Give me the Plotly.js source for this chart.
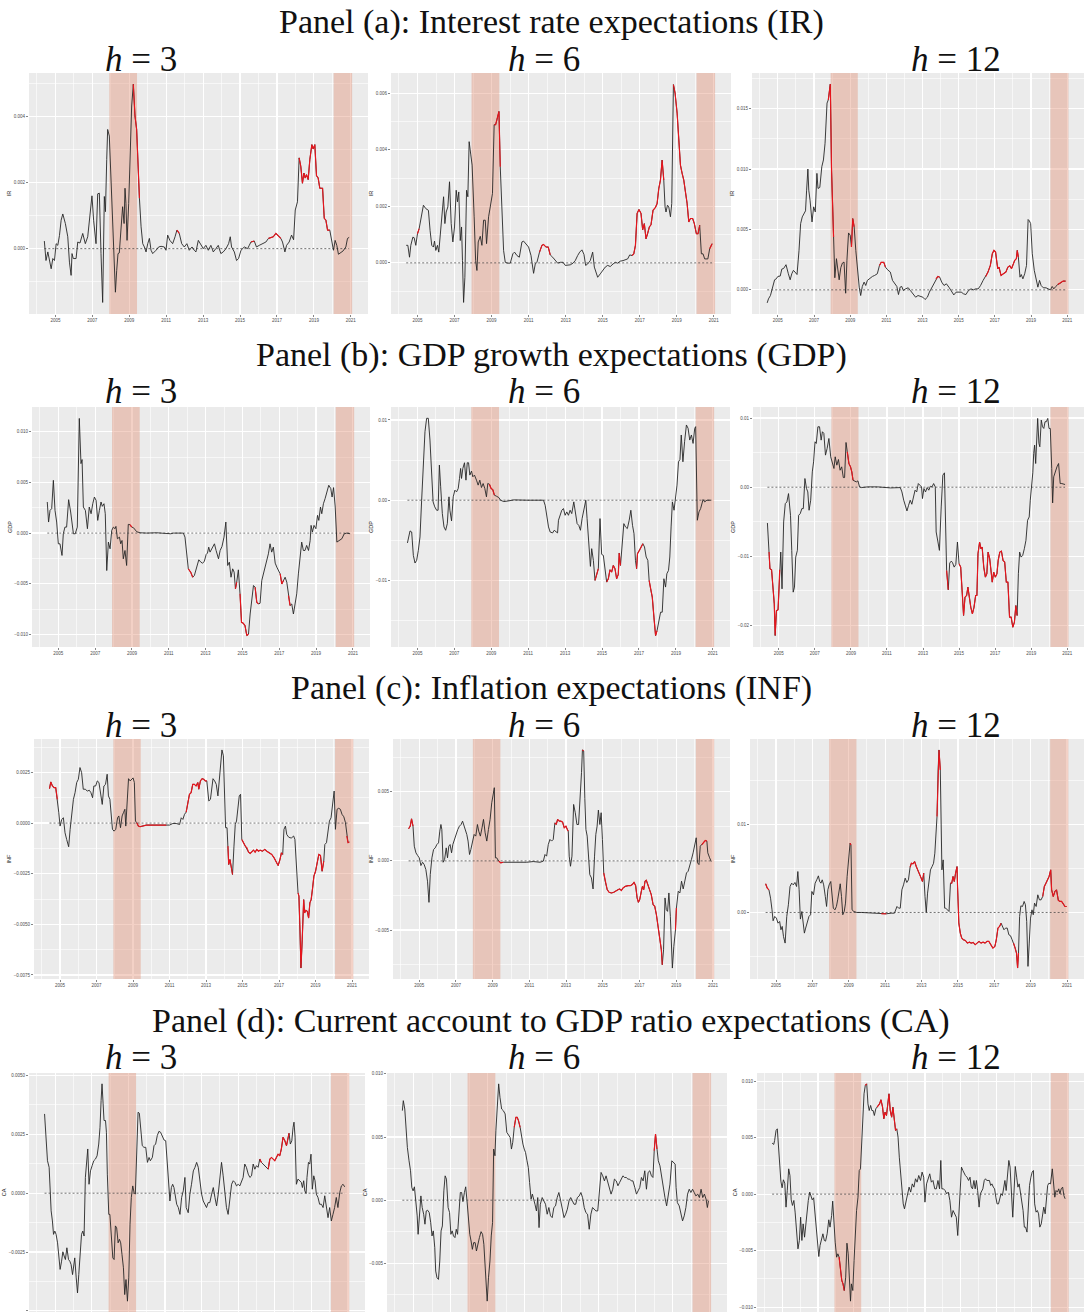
<!DOCTYPE html>
<html><head><meta charset="utf-8">
<script src="https://cdn.plot.ly/plotly-3.0.1.min.js"></script>
<style>html,body{margin:0;padding:0;background:#fff}#chart{width:1084px;height:1313px}</style>
</head><body><div id="chart"></div>
<script>
// Recession bands (decimal years)
const recessions = [[2007.92, 2009.42], [2020.07, 2021.07]];

// Series: [decimal year, value]
const IR_h3 = [[2004.40,0.23e-3],[2004.49,-0.36e-3],[2004.59,-0.1e-3],[2004.77,-0.61e-3],[2004.86,-0.3e-3],[2004.95,-0.36e-3],[2005.04,0.15e-3],[2005.13,0.1e-3],[2005.22,0.4e-3],[2005.31,0.86e-3],
[2005.40,1.05e-3],[2005.54,0.76e-3],[2005.67,0.36e-3],[2005.76,-0.41e-3],[2005.85,-0.81e-3],[2005.90,-0.15e-3],[2005.97,-0.3e-3],[2006.12,-0.3e-3],[2006.21,0.2e-3],[2006.33,0.17e-3],
[2006.48,0.46e-3],[2006.62,0.15e-3],[2006.75,0.36e-3],[2006.88,0.97e-3],[2006.98,1.6e-3],[2007.07,0.86e-3],[2007.20,0.15e-3],[2007.29,1.66e-3],[2007.38,1.68e-3],[2007.47,-0.15e-3],
[2007.56,-1.63e-3],[2007.65,1.58e-3],[2007.71,1.12e-3],[2007.78,2.7e-3],[2007.83,3.61e-3],[2007.92,3.41e-3],[2008.01,2.08e-3],[2008.10,0.66e-3],[2008.19,-0.97e-3],[2008.25,-1.32e-3],
[2008.32,-0.66e-3],[2008.39,-0.15e-3],[2008.46,-0.13e-3],[2008.55,0.56e-3],[2008.64,1.27e-3],[2008.72,0.76e-3],[2008.77,1.83e-3],[2008.82,1.37e-3],[2008.88,0.25e-3],[2008.97,1.37e-3],
[2009.06,2.7e-3],[2009.13,4.32e-3],[2009.22,4.98e-3],[2009.31,4.02e-3],[2009.40,3.61e-3],[2009.47,2.49e-3],[2009.55,1.53e-3],[2009.64,0.66e-3],[2009.73,0.15e-3],[2009.82,0.05e-3],
[2009.91,-0.1e-3],[2010.00,0.15e-3],[2010.09,0.31e-3],[2010.18,-0.05e-3],[2010.27,-0.15e-3],[2010.45,-0.05e-3],[2010.59,0.05e-3],[2010.72,0.07e-3],[2010.90,0.05e-3],[2010.99,-0.05e-3],
[2011.08,0.41e-3],[2011.20,0.25e-3],[2011.35,0.15e-3],[2011.48,0.36e-3],[2011.58,0.56e-3],[2011.71,0.46e-3],[2011.84,0.15e-3],[2011.98,0.05e-3],[2012.12,0.15e-3],[2012.25,-0.05e-3],
[2012.40,0.05e-3],[2012.52,-0.05e-3],[2012.61,-0.1e-3],[2012.74,0.25e-3],[2012.88,0.1e-3],[2013.01,0],[2013.15,0.1e-3],[2013.28,-0.05e-3],[2013.42,0.1e-3],[2013.55,-0.1e-3],
[2013.69,0],[2013.82,0.1e-3],[2013.96,-0.15e-3],[2014.09,-0.1e-3],[2014.24,0],[2014.38,0.15e-3],[2014.47,0.36e-3],[2014.54,0.05e-3],[2014.69,-0.1e-3],[2014.81,-0.36e-3],
[2014.92,-0.3e-3],[2015.05,-0.05e-3],[2015.23,0.05e-3],[2015.41,0],[2015.50,0.1e-3],[2015.59,0.2e-3],[2015.77,0.23e-3],[2015.89,0.05e-3],[2016.04,0.1e-3],[2016.22,0.15e-3],
[2016.40,0.2e-3],[2016.54,0.31e-3],[2016.67,0.33e-3],[2016.80,0.36e-3],[2016.94,0.46e-3],[2017.09,0.38e-3],[2017.21,0.31e-3],[2017.30,0.2e-3],[2017.43,-0.1e-3],[2017.52,0.1e-3],
[2017.66,0.2e-3],[2017.79,0.41e-3],[2017.90,0.27e-3],[2017.99,1.17e-3],[2018.11,1.42e-3],[2018.20,2.75e-3],[2018.29,2.49e-3],[2018.38,1.98e-3],[2018.46,2.29e-3],[2018.53,2.14e-3],
[2018.60,2.24e-3],[2018.69,2.09e-3],[2018.78,2.7e-3],[2018.89,3.15e-3],[2018.96,3.02e-3],[2019.05,3.15e-3],[2019.14,2.21e-3],[2019.23,2.14e-3],[2019.32,1.83e-3],[2019.47,1.83e-3],
[2019.56,0.92e-3],[2019.65,0.86e-3],[2019.74,0.56e-3],[2019.86,0.56e-3],[2019.97,0.15e-3],[2020.06,-0.05e-3],[2020.15,0.25e-3],[2020.24,0.1e-3],[2020.33,-0.17e-3],[2020.46,-0.13e-3],
[2020.58,-0.07e-3],[2020.73,0.05e-3],[2020.82,0.31e-3],[2020.91,0.34e-3]];
const IR_h3_red = [[2009.22,2009.55],[2011.58,2011.71],[2015.59,2015.77],[2016.54,2017.21],[2018.20,2019.86]];

const IR_h6 = [[2004.39,0.62e-3],[2004.48,0.62e-3],[2004.57,0.2e-3],[2004.64,0.62e-3],[2004.75,0.91e-3],[2004.82,0.89e-3],[2004.91,0.62e-3],[2005.00,1.03e-3],[2005.09,1.21e-3],[2005.18,1.51e-3],
[2005.27,1.8e-3],[2005.32,2.04e-3],[2005.45,1.92e-3],[2005.59,1.86e-3],[2005.68,1.15e-3],[2005.77,0.62e-3],[2005.86,0.56e-3],[2005.92,0.77e-3],[2005.99,0.44e-3],[2006.08,0.62e-3],
[2006.15,0.38e-3],[2006.23,0.91e-3],[2006.32,1.63e-3],[2006.41,2.34e-3],[2006.48,1.39e-3],[2006.55,1.8e-3],[2006.64,1.98e-3],[2006.73,2.87e-3],[2006.82,1.39e-3],[2006.91,0.74e-3],
[2007.00,1.27e-3],[2007.09,2.57e-3],[2007.16,2.16e-3],[2007.23,2.51e-3],[2007.31,0.79e-3],[2007.38,1.27e-3],[2007.43,0.08e-3],[2007.49,-1.40e-3],[2007.56,-0.51e-3],[2007.65,2.57e-3],
[2007.72,2.34e-3],[2007.79,4.29e-3],[2007.88,3.82e-3],[2007.95,3.46e-3],[2008.06,1.63e-3],[2008.14,0.08e-3],[2008.21,-0.27e-3],[2008.28,0.74e-3],[2008.39,0.94e-3],[2008.48,0.62e-3],
[2008.57,1.51e-3],[2008.66,1.51e-3],[2008.73,0.68e-3],[2008.84,1.63e-3],[2008.93,1.98e-3],[2009.05,2.46e-3],[2009.14,4.89e-3],[2009.22,4.89e-3],[2009.29,5.07e-3],[2009.40,5.36e-3],
[2009.47,3.4e-3],[2009.56,1.86e-3],[2009.65,0.44e-3],[2009.74,0.02e-3],[2009.86,-0.01e-3],[2010.01,-0.01e-3],[2010.15,0.32e-3],[2010.24,0.38e-3],[2010.37,0.26e-3],[2010.50,0.2e-3],
[2010.64,0.74e-3],[2010.73,0.77e-3],[2010.86,0.68e-3],[2011.00,0.56e-3],[2011.13,0.26e-3],[2011.27,-0.37e-3],[2011.36,-0.04e-3],[2011.45,0.02e-3],[2011.59,0.38e-3],[2011.72,0.62e-3],
[2011.81,0.65e-3],[2011.94,0.56e-3],[2012.06,0.56e-3],[2012.17,0.28e-3],[2012.30,0.2e-3],[2012.44,0.08e-3],[2012.57,-0.01e-3],[2012.71,0.02e-3],[2012.86,0.02e-3],[2012.98,-0.09e-3],
[2013.11,-0.09e-3],[2013.25,-0.07e-3],[2013.40,-0.01e-3],[2013.52,0.08e-3],[2013.65,0.26e-3],[2013.76,0.38e-3],[2013.88,0.46e-3],[2013.99,0.3e-3],[2014.08,-0.09e-3],[2014.19,-0.04e-3],
[2014.33,0.08e-3],[2014.46,0.38e-3],[2014.55,-0.15e-3],[2014.64,-0.33e-3],[2014.73,-0.51e-3],[2014.87,-0.39e-3],[2015.00,-0.25e-3],[2015.14,-0.15e-3],[2015.27,-0.09e-3],[2015.41,-0.13e-3],
[2015.56,-0.04e-3],[2015.68,0.02e-3],[2015.81,-0.01e-3],[2015.95,0.06e-3],[2016.10,0.08e-3],[2016.23,0.11e-3],[2016.35,0.14e-3],[2016.46,0.28e-3],[2016.59,0.26e-3],[2016.68,0.32e-3],
[2016.77,0.62e-3],[2016.86,1.75e-3],[2016.96,1.89e-3],[2017.07,1.75e-3],[2017.16,1.17e-3],[2017.25,1.39e-3],[2017.34,0.85e-3],[2017.43,1.03e-3],[2017.52,1.27e-3],[2017.61,1.35e-3],
[2017.72,1.86e-3],[2017.85,1.96e-3],[2017.94,2.1e-3],[2018.03,2.63e-3],[2018.12,2.93e-3],[2018.21,3.64e-3],[2018.30,2.93e-3],[2018.37,1.98e-3],[2018.42,1.8e-3],[2018.50,2.04e-3],
[2018.57,1.98e-3],[2018.66,1.63e-3],[2018.73,2.1e-3],[2018.82,6.31e-3],[2018.91,6.01e-3],[2019.02,5.3e-3],[2019.11,4.12e-3],[2019.20,3.46e-3],[2019.29,3.17e-3],[2019.38,2.93e-3],
[2019.47,2.51e-3],[2019.56,2.1e-3],[2019.65,1.45e-3],[2019.74,1.57e-3],[2019.86,1.57e-3],[2019.95,1.39e-3],[2020.06,1.03e-3],[2020.15,1.03e-3],[2020.24,1.33e-3],[2020.33,0.32e-3],
[2020.42,0.32e-3],[2020.51,0.14e-3],[2020.68,0.14e-3],[2020.78,0.5e-3],[2020.91,0.68e-3]];
const IR_h6_red = [[2005.00,2005.09],[2009.14,2009.47],[2011.59,2012.17],[2016.59,2018.30],[2018.82,2020.24],[2020.78,2020.91]];

const IR_h12 = [[2004.41,-1.08e-3],[2004.48,-0.75e-3],[2004.59,-0.47e-3],[2004.68,0.08e-3],[2004.82,0.83e-3],[2004.91,0.91e-3],[2005.00,1.11e-3],[2005.13,1.14e-3],[2005.22,1.72e-3],[2005.32,1.77e-3],
[2005.45,2.08e-3],[2005.58,1.33e-3],[2005.68,0.83e-3],[2005.77,1.33e-3],[2005.86,1.61e-3],[2005.95,1.47e-3],[2006.06,1.27e-3],[2006.17,3.27e-3],[2006.26,5.48e-3],[2006.35,6.04e-3],
[2006.44,6.32e-3],[2006.53,6.54e-3],[2006.59,8.25e-3],[2006.66,10.0e-3],[2006.71,8.25e-3],[2006.78,7.42e-3],[2006.89,5.62e-3],[2006.98,6.87e-3],[2007.07,6.45e-3],[2007.16,9.64e-3],
[2007.22,8.39e-3],[2007.32,8.48e-3],[2007.43,10.19e-3],[2007.52,10.75e-3],[2007.61,12.13e-3],[2007.67,13.8e-3],[2007.72,15.46e-3],[2007.79,15.73e-3],[2007.90,17.04e-3],[2007.97,9.92e-3],
[2008.08,4.38e-3],[2008.15,1.0e-3],[2008.24,2.58e-3],[2008.30,1.88e-3],[2008.39,0.83e-3],[2008.48,1.83e-3],[2008.57,2.22e-3],[2008.66,2.3e-3],[2008.75,-0.28e-3],[2008.82,2.44e-3],
[2008.91,4.71e-3],[2009.00,4.52e-3],[2009.07,3.55e-3],[2009.14,5.9e-3],[2009.22,5.21e-3],[2009.31,3.27e-3],[2009.41,1.61e-3],[2009.50,0.22e-3],[2009.58,-0.47e-3],[2009.67,0.28e-3],
[2009.77,0.64e-3],[2009.86,0.36e-3],[2009.95,0.78e-3],[2010.10,0.97e-3],[2010.23,1.11e-3],[2010.35,1.19e-3],[2010.50,1.33e-3],[2010.62,2.02e-3],[2010.71,2.27e-3],[2010.86,2.27e-3],
[2010.95,1.88e-3],[2011.07,1.66e-3],[2011.22,1.47e-3],[2011.34,0.78e-3],[2011.49,0.5e-3],[2011.58,0.28e-3],[2011.67,-0.39e-3],[2011.76,0.22e-3],[2011.85,0.28e-3],[2011.94,-0.06e-3],
[2012.06,0.08e-3],[2012.21,0.17e-3],[2012.33,-0.06e-3],[2012.48,-0.39e-3],[2012.62,-0.61e-3],[2012.75,-0.47e-3],[2012.87,-0.55e-3],[2013.02,-0.61e-3],[2013.14,-0.8e-3],[2013.27,-0.61e-3],
[2013.38,-0.19e-3],[2013.50,0.17e-3],[2013.63,0.5e-3],[2013.74,0.91e-3],[2013.85,1.11e-3],[2013.95,1.05e-3],[2014.06,0.64e-3],[2014.19,0.36e-3],[2014.32,0.5e-3],[2014.46,0.22e-3],
[2014.59,-0.11e-3],[2014.73,-0.42e-3],[2014.86,-0.19e-3],[2015.00,-0.22e-3],[2015.14,-0.19e-3],[2015.27,-0.33e-3],[2015.40,-0.39e-3],[2015.54,-0.06e-3],[2015.68,0.08e-3],[2015.81,0],
[2015.94,0.08e-3],[2016.08,0.08e-3],[2016.21,0.36e-3],[2016.35,0.78e-3],[2016.50,1.11e-3],[2016.62,1.47e-3],[2016.75,2.02e-3],[2016.86,2.99e-3],[2016.95,3.27e-3],[2017.04,3.13e-3],
[2017.11,2.3e-3],[2017.16,1.75e-3],[2017.23,1.88e-3],[2017.34,1.19e-3],[2017.47,1.33e-3],[2017.61,1.47e-3],[2017.72,1.88e-3],[2017.83,1.99e-3],[2017.92,1.75e-3],[2018.01,2.16e-3],
[2018.10,2.44e-3],[2018.19,2.58e-3],[2018.24,3.27e-3],[2018.30,2.71e-3],[2018.39,1.05e-3],[2018.46,1.27e-3],[2018.55,0.91e-3],[2018.65,1.33e-3],[2018.75,2.02e-3],[2018.84,5.82e-3],
[2018.91,5.71e-3],[2018.98,5.48e-3],[2019.07,2.99e-3],[2019.18,1.61e-3],[2019.29,0.91e-3],[2019.38,0.22e-3],[2019.47,0.78e-3],[2019.56,0.36e-3],[2019.68,0.17e-3],[2019.83,0.17e-3],
[2019.95,0.08e-3],[2020.08,0],[2020.17,0.28e-3],[2020.26,0.08e-3],[2020.37,0.28e-3],[2020.48,0.44e-3],[2020.62,0.55e-3],[2020.77,0.72e-3],[2020.91,0.72e-3]];
const IR_h12_red = [[2007.79,2008.08],[2009.07,2009.22],[2010.62,2010.95],[2013.74,2013.95],[2016.50,2018.30],[2020.48,2020.91]];

const GDP_h3 = [[2004.40,3.07e-3],[2004.47,1.09e-3],[2004.55,2.24e-3],[2004.64,2.41e-3],[2004.73,5.21e-3],[2004.82,2.24e-3],[2004.91,1.09e-3],[2005.00,-1.06e-3],[2005.09,-1.06e-3],[2005.20,-2.21e-3],
[2005.27,-0.07e-3],[2005.36,0.59e-3],[2005.45,0.59e-3],[2005.56,3.3e-3],[2005.67,2.08e-3],[2005.74,1.25e-3],[2005.82,-0.07e-3],[2005.92,-0.07e-3],[2006.03,0.59e-3],[2006.14,11.32e-3],
[2006.23,6.86e-3],[2006.29,7.26e-3],[2006.36,2.57e-3],[2006.47,2.24e-3],[2006.58,0.43e-3],[2006.68,2.57e-3],[2006.78,1.91e-3],[2006.87,2.9e-3],[2006.96,3.56e-3],[2007.05,3.23e-3],
[2007.14,1.25e-3],[2007.23,2.24e-3],[2007.32,3.07e-3],[2007.39,2.64e-3],[2007.48,2.9e-3],[2007.55,1.91e-3],[2007.63,-3.7e-3],[2007.72,-0.89e-3],[2007.81,-1.55e-3],[2007.90,0.26e-3],
[2007.99,0.59e-3],[2008.08,0.43e-3],[2008.13,0.66e-3],[2008.21,-0.56e-3],[2008.32,-0.4e-3],[2008.39,-1.06e-3],[2008.46,-0.73e-3],[2008.53,-2.54e-3],[2008.62,-1.72e-3],[2008.71,-3.2e-3],
[2008.80,0.86e-3],[2008.89,0.83e-3],[2008.99,0.59e-3],[2009.08,0.53e-3],[2009.17,0.26e-3],[2009.26,0.13e-3],[2009.44,0.03e-3],[2009.80,0],[2010.34,0.03e-3],[2010.89,0],
[2011.11,-0.07e-3],[2011.25,0],[2011.79,0],[2011.88,-0.4e-3],[2011.97,-2.38e-3],[2012.06,-3.53e-3],[2012.19,-3.86e-3],[2012.30,-4.36e-3],[2012.39,-4.19e-3],[2012.52,-3.37e-3],
[2012.63,-2.64e-3],[2012.74,-2.87e-3],[2012.83,-2.97e-3],[2012.93,-2.81e-3],[2013.03,-2.11e-3],[2013.10,-1.98e-3],[2013.17,-1.39e-3],[2013.24,-1.88e-3],[2013.35,-1.55e-3],[2013.48,-1.06e-3],
[2013.57,-1.72e-3],[2013.70,-2.54e-3],[2013.79,-1.72e-3],[2013.89,-1.32e-3],[2014.00,-0.4e-3],[2014.10,1.09e-3],[2014.20,-3.2e-3],[2014.29,-2.87e-3],[2014.38,-4.36e-3],[2014.47,-3.53e-3],
[2014.55,-3.86e-3],[2014.62,-5.51e-3],[2014.69,-4.85e-3],[2014.78,-3.63e-3],[2014.87,-6.0e-3],[2014.95,-8.81e-3],[2015.05,-8.91e-3],[2015.14,-9.14e-3],[2015.24,-10.13e-3],[2015.33,-9.97e-3],
[2015.42,-7.99e-3],[2015.51,-6.34e-3],[2015.60,-5.18e-3],[2015.69,-5.35e-3],[2015.78,-6.83e-3],[2015.87,-7.0e-3],[2015.96,-6.93e-3],[2016.05,-4.69e-3],[2016.14,-4.03e-3],[2016.23,-3.37e-3],
[2016.32,-2.71e-3],[2016.41,-2.05e-3],[2016.50,-1.06e-3],[2016.59,-1.88e-3],[2016.68,-1.39e-3],[2016.78,-2.97e-3],[2016.87,-3.37e-3],[2016.96,-3.7e-3],[2017.05,-4.03e-3],[2017.14,-5.02e-3],
[2017.23,-4.69e-3],[2017.32,-4.36e-3],[2017.41,-4.85e-3],[2017.50,-6.17e-3],[2017.59,-7.16e-3],[2017.68,-7.0e-3],[2017.77,-7.99e-3],[2017.86,-7.0e-3],[2017.95,-6.0e-3],[2018.04,-4.03e-3],
[2018.13,-2.38e-3],[2018.22,-0.89e-3],[2018.31,-1.72e-3],[2018.40,-1.72e-3],[2018.49,-1.22e-3],[2018.59,-1.72e-3],[2018.68,-0.73e-3],[2018.73,0.76e-3],[2018.80,0.1e-3],[2018.89,0.76e-3],
[2018.99,0.43e-3],[2019.08,1.75e-3],[2019.15,1.25e-3],[2019.24,2.57e-3],[2019.31,1.91e-3],[2019.40,2.9e-3],[2019.49,3.4e-3],[2019.58,3.89e-3],[2019.69,4.72e-3],[2019.80,4.39e-3],
[2019.87,3.56e-3],[2019.95,4.49e-3],[2020.04,2.57e-3],[2020.13,-0.89e-3],[2020.27,-0.73e-3],[2020.40,-0.56e-3],[2020.53,-0.07e-3],[2020.67,0],[2020.85,-0.07e-3]];
const GDP_h3_red = [[2008.89,2008.99],[2012.06,2012.30],[2014.62,2014.69],[2014.87,2015.33],[2015.69,2015.87],[2017.05,2017.23],[2017.50,2017.59]];

const GDP_h6 = [[2004.46,-5.33e-3],[2004.51,-4.79e-3],[2004.60,-3.83e-3],[2004.69,-3.96e-3],[2004.78,-6.88e-3],[2004.87,-7.83e-3],[2004.96,-7.5e-3],[2005.05,-6.25e-3],[2005.14,-4.58e-3],[2005.23,0],
[2005.32,5.0e-3],[2005.41,8.54e-3],[2005.50,10.21e-3],[2005.59,10.21e-3],[2005.68,7.5e-3],[2005.76,3.75e-3],[2005.85,-0.21e-3],[2005.94,-0.83e-3],[2006.04,-1.25e-3],[2006.12,-1.25e-3],
[2006.19,4.38e-3],[2006.26,1.67e-3],[2006.35,-1.67e-3],[2006.44,-3.33e-3],[2006.53,-3.75e-3],[2006.62,-2.92e-3],[2006.71,0.42e-3],[2006.76,-1.25e-3],[2006.85,-2.58e-3],[2006.94,0.42e-3],
[2007.03,1.25e-3],[2007.12,1.04e-3],[2007.21,1.46e-3],[2007.28,2.71e-3],[2007.34,3.96e-3],[2007.39,2.71e-3],[2007.46,3.96e-3],[2007.55,4.67e-3],[2007.63,2.5e-3],[2007.70,4.67e-3],
[2007.77,4.67e-3],[2007.84,3.13e-3],[2007.93,3.63e-3],[2008.00,2.92e-3],[2008.09,3.13e-3],[2008.20,2.5e-3],[2008.29,1.88e-3],[2008.38,2.5e-3],[2008.47,1.58e-3],[2008.56,2.08e-3],
[2008.65,1.46e-3],[2008.74,0.42e-3],[2008.81,2.08e-3],[2008.90,2.0e-3],[2008.99,1.46e-3],[2009.08,1.33e-3],[2009.17,0.63e-3],[2009.28,0.5e-3],[2009.41,0.33e-3],[2009.50,0],
[2009.68,-0.17e-3],[2009.95,-0.08e-3],[2010.22,0.04e-3],[2010.94,0],[2011.47,0],[2011.83,0],[2011.92,-0.63e-3],[2012.01,-2.08e-3],[2012.10,-3.33e-3],[2012.19,-3.96e-3],
[2012.32,-4.08e-3],[2012.41,-3.75e-3],[2012.50,-3.96e-3],[2012.59,-4.08e-3],[2012.64,-2.5e-3],[2012.73,-1.88e-3],[2012.82,-1.25e-3],[2012.91,-1.04e-3],[2013.00,-1.88e-3],[2013.09,-1.46e-3],
[2013.18,-1.88e-3],[2013.27,-1.25e-3],[2013.36,-1.67e-3],[2013.47,-0.21e-3],[2013.56,-1.67e-3],[2013.65,-2.92e-3],[2013.74,-3.13e-3],[2013.83,-3.75e-3],[2013.92,-2.29e-3],[2014.01,-1.25e-3],
[2014.12,0],[2014.19,-2.29e-3],[2014.28,-5.0e-3],[2014.37,-8.25e-3],[2014.44,-6.04e-3],[2014.53,-7.5e-3],[2014.62,-10.0e-3],[2014.71,-9.17e-3],[2014.80,-8.54e-3],[2014.89,-2.29e-3],
[2014.98,-6.75e-3],[2015.07,-6.88e-3],[2015.16,-8.75e-3],[2015.25,-10.21e-3],[2015.34,-9.79e-3],[2015.43,-8.67e-3],[2015.52,-8.96e-3],[2015.61,-8.13e-3],[2015.70,-8.54e-3],[2015.79,-9.79e-3],
[2015.88,-9.25e-3],[2015.93,-6.58e-3],[2016.00,-8.13e-3],[2016.09,-5.42e-3],[2016.18,-2.92e-3],[2016.27,-3.33e-3],[2016.37,-3.54e-3],[2016.47,-2.5e-3],[2016.56,-1.25e-3],[2016.65,-3.13e-3],
[2016.73,-4.17e-3],[2016.81,-7.5e-3],[2016.87,-8.54e-3],[2016.92,-6.67e-3],[2017.03,-6.25e-3],[2017.12,-5.75e-3],[2017.21,-5.42e-3],[2017.30,-5.83e-3],[2017.39,-7.08e-3],[2017.48,-7.5e-3],
[2017.55,-10.0e-3],[2017.63,-11.04e-3],[2017.72,-12.08e-3],[2017.81,-14.58e-3],[2017.90,-16.88e-3],[2017.98,-16.25e-3],[2018.08,-15.21e-3],[2018.17,-13.96e-3],[2018.26,-13.96e-3],[2018.35,-9.79e-3],
[2018.44,-10.83e-3],[2018.51,-9.17e-3],[2018.60,-8.75e-3],[2018.67,-7.08e-3],[2018.74,-3.33e-3],[2018.81,-0.21e-3],[2018.90,-1.25e-3],[2018.99,0.63e-3],[2019.06,1.88e-3],[2019.14,4.79e-3],
[2019.22,5.08e-3],[2019.29,8.13e-3],[2019.38,4.79e-3],[2019.47,7.29e-3],[2019.57,9.38e-3],[2019.66,8.96e-3],[2019.75,7.5e-3],[2019.84,8.13e-3],[2019.93,7.08e-3],[2020.02,8.96e-3],
[2020.07,9.17e-3],[2020.16,-2.5e-3],[2020.25,-1.46e-3],[2020.34,-1.04e-3],[2020.47,0.08e-3],[2020.56,-0.21e-3],[2020.68,0],[2020.92,0]];
const GDP_h6_red = [[2008.90,2009.17],[2014.62,2014.80],[2015.25,2016.00],[2016.87,2017.21],[2017.55,2017.98]];

const GDP_h12 = [[2004.37,-5.17e-3],[2004.46,-9.37e-3],[2004.51,-11.79e-3],[2004.60,-11.93e-3],[2004.69,-14.44e-3],[2004.75,-16.86e-3],[2004.80,-21.45e-3],[2004.87,-17.83e-3],[2004.96,-17.73e-3],[2005.05,-11.93e-3],
[2005.11,-9.37e-3],[2005.18,-14.69e-3],[2005.27,-5.02e-3],[2005.36,-2.37e-3],[2005.45,-2.13e-3],[2005.54,-0.92e-3],[2005.65,-4.06e-3],[2005.72,-9.13e-3],[2005.80,-15.17e-3],[2005.87,-14.44e-3],
[2005.94,-10.1e-3],[2006.03,-9.13e-3],[2006.10,-4.06e-3],[2006.19,-3.82e-3],[2006.28,-3.09e-3],[2006.36,-3.09e-3],[2006.45,1.26e-3],[2006.54,-0.19e-3],[2006.61,-0.68e-3],[2006.68,-3.33e-3],
[2006.77,-1.88e-3],[2006.86,2.22e-3],[2006.93,3.67e-3],[2007.01,6.57e-3],[2007.08,6.33e-3],[2007.17,8.74e-3],[2007.26,8.74e-3],[2007.35,6.81e-3],[2007.42,8.02e-3],[2007.50,7.78e-3],
[2007.59,4.64e-3],[2007.68,5.6e-3],[2007.78,7.05e-3],[2007.88,4.4e-3],[2007.98,3.43e-3],[2008.06,2.71e-3],[2008.13,4.4e-3],[2008.22,3.19e-3],[2008.31,4.01e-3],[2008.40,2.46e-3],
[2008.49,2.95e-3],[2008.58,1.4e-3],[2008.65,1.4e-3],[2008.73,6.47e-3],[2008.80,5.12e-3],[2008.89,3.43e-3],[2008.98,2.95e-3],[2009.05,2.22e-3],[2009.12,1.01e-3],[2009.21,0.87e-3],
[2009.30,0.77e-3],[2009.39,0.92e-3],[2009.48,0.05e-3],[2009.58,-0.05e-3],[2009.94,0.05e-3],[2010.48,0.05e-3],[2011.20,-0.1e-3],[2011.74,-0.05e-3],[2011.83,-0.68e-3],[2011.93,-1.88e-3],
[2012.02,-2.85e-3],[2012.11,-3.43e-3],[2012.20,-2.61e-3],[2012.29,-1.88e-3],[2012.38,-2.46e-3],[2012.47,-1.16e-3],[2012.56,-0.43e-3],[2012.65,-0.68e-3],[2012.74,0.53e-3],[2012.83,0.29e-3],
[2012.92,0.05e-3],[2012.97,-1.64e-3],[2013.05,-0.19e-3],[2013.14,-0.68e-3],[2013.23,-0.05e-3],[2013.32,-0.43e-3],[2013.41,0.14e-3],[2013.50,0.05e-3],[2013.59,0.53e-3],[2013.68,0.05e-3],
[2013.73,-6.47e-3],[2013.82,-7.78e-3],[2013.91,-9.13e-3],[2014.01,-2.85e-3],[2014.10,1.74e-3],[2014.19,2.08e-3],[2014.24,-4.3e-3],[2014.31,-12.03e-3],[2014.40,-14.83e-3],[2014.48,-10.97e-3],
[2014.57,-10.68e-3],[2014.64,-10.92e-3],[2014.73,-11.55e-3],[2014.82,-11.16e-3],[2014.91,-7.92e-3],[2015.00,-11.06e-3],[2015.09,-11.55e-3],[2015.18,-15.41e-3],[2015.25,-18.55e-3],[2015.33,-15.89e-3],
[2015.42,-15.65e-3],[2015.49,-14.44e-3],[2015.56,-15.89e-3],[2015.65,-17.34e-3],[2015.74,-18.31e-3],[2015.83,-17.34e-3],[2015.92,-15.65e-3],[2015.99,-15.65e-3],[2016.05,-9.61e-3],[2016.14,-7.92e-3],
[2016.21,-8.89e-3],[2016.28,-8.65e-3],[2016.37,-11.55e-3],[2016.46,-13.0e-3],[2016.54,-12.51e-3],[2016.61,-9.37e-3],[2016.70,-10.34e-3],[2016.77,-12.51e-3],[2016.84,-13.72e-3],[2016.92,-12.27e-3],
[2017.01,-13.0e-3],[2017.10,-12.51e-3],[2017.17,-10.58e-3],[2017.26,-9.37e-3],[2017.35,-9.23e-3],[2017.44,-10.58e-3],[2017.53,-10.82e-3],[2017.62,-13.72e-3],[2017.71,-13.72e-3],[2017.80,-18.79e-3],
[2017.89,-18.79e-3],[2017.98,-20.24e-3],[2018.07,-19.52e-3],[2018.15,-17.1e-3],[2018.22,-18.55e-3],[2018.29,-12.51e-3],[2018.36,-9.37e-3],[2018.44,-10.1e-3],[2018.53,-9.86e-3],[2018.62,-8.89e-3],
[2018.71,-7.68e-3],[2018.80,-4.78e-3],[2018.89,-4.3e-3],[2018.95,-1.88e-3],[2019.01,-0.19e-3],[2019.09,2.08e-3],[2019.14,4.88e-3],[2019.19,6.09e-3],[2019.25,3.43e-3],[2019.30,8.02e-3],
[2019.36,9.95e-3],[2019.43,6.33e-3],[2019.48,5.85e-3],[2019.56,9.71e-3],[2019.63,8.74e-3],[2019.70,8.5e-3],[2019.77,9.47e-3],[2019.84,9.47e-3],[2019.92,9.95e-3],[2019.99,8.5e-3],
[2020.06,8.5e-3],[2020.14,2.71e-3],[2020.19,-2.27e-3],[2020.25,1.5e-3],[2020.33,2.22e-3],[2020.43,2.95e-3],[2020.52,3.43e-3],[2020.61,0.53e-3],[2020.70,0.53e-3],[2020.88,0.39e-3]];
const GDP_h12_red = [[2004.46,2005.05],[2008.80,2009.12],[2014.31,2014.40],[2015.00,2018.22]];

const INF_h3 = [[2004.42,1.70e-3],[2004.49,2.03e-3],[2004.58,1.83e-3],[2004.67,1.75e-3],[2004.76,1.75e-3],[2004.85,1.17e-3],[2004.93,0.51e-3],[2005.00,-0.15e-3],[2005.09,0.18e-3],[2005.18,0.26e-3],
[2005.27,-0.48e-3],[2005.36,-0.81e-3],[2005.47,-1.17e-3],[2005.55,-0.31e-3],[2005.64,0.43e-3],[2005.73,1.17e-3],[2005.82,1.5e-3],[2005.91,2.0e-3],[2006.00,2.16e-3],[2006.09,2.74e-3],
[2006.18,2.49e-3],[2006.27,1.67e-3],[2006.38,1.67e-3],[2006.49,1.58e-3],[2006.60,1.62e-3],[2006.69,1.5e-3],[2006.78,1.25e-3],[2006.85,1.83e-3],[2006.95,1.83e-3],[2007.04,2.08e-3],
[2007.13,2.0e-3],[2007.22,1.42e-3],[2007.31,0.92e-3],[2007.40,1.83e-3],[2007.49,1.91e-3],[2007.58,2.41e-3],[2007.65,1.34e-3],[2007.73,1.17e-3],[2007.80,0.35e-3],[2007.87,-0.31e-3],
[2007.96,-0.4e-3],[2008.05,-0.31e-3],[2008.15,0.26e-3],[2008.22,0.35e-3],[2008.31,-0.23e-3],[2008.40,0.35e-3],[2008.47,0.51e-3],[2008.55,0.68e-3],[2008.60,-0.15e-3],[2008.67,1.25e-3],
[2008.75,2.19e-3],[2008.84,2.08e-3],[2008.91,2.16e-3],[2009.00,2.23e-3],[2009.07,2.0e-3],[2009.13,0.1e-3],[2009.20,0.02e-3],[2009.29,-0.15e-3],[2009.38,-0.18e-3],[2009.55,-0.15e-3],
[2009.73,-0.1e-3],[2010.09,-0.1e-3],[2010.45,-0.1e-3],[2010.82,-0.1e-3],[2011.00,-0.1e-3],[2011.18,-0.02e-3],[2011.36,-0.02e-3],[2011.55,-0.07e-3],[2011.64,0.26e-3],[2011.73,0.18e-3],
[2011.82,0.43e-3],[2011.91,0.54e-3],[2012.00,0.92e-3],[2012.09,1.42e-3],[2012.18,1.5e-3],[2012.27,1.91e-3],[2012.36,1.91e-3],[2012.45,1.83e-3],[2012.55,2.0e-3],[2012.60,1.67e-3],
[2012.69,2.08e-3],[2012.78,2.19e-3],[2012.87,2.16e-3],[2012.96,2.08e-3],[2013.04,2.08e-3],[2013.15,1.09e-3],[2013.24,1.17e-3],[2013.31,1.83e-3],[2013.38,2.19e-3],[2013.47,2.08e-3],
[2013.56,1.91e-3],[2013.65,1.34e-3],[2013.73,2.33e-3],[2013.82,3.15e-3],[2013.87,3.61e-3],[2013.95,3.32e-3],[2014.02,1.17e-3],[2014.07,-0.23e-3],[2014.15,-0.23e-3],[2014.20,-1.14e-3],
[2014.24,-2.05e-3],[2014.31,-1.8e-3],[2014.38,-2.29e-3],[2014.45,-2.54e-3],[2014.53,-1.14e-3],[2014.60,-0.07e-3],[2014.67,0.1e-3],[2014.75,0.84e-3],[2014.82,1.34e-3],[2014.89,1.42e-3],
[2014.96,-0.81e-3],[2015.05,-0.97e-3],[2015.15,-1.14e-3],[2015.24,-1.22e-3],[2015.33,-1.44e-3],[2015.42,-1.5e-3],[2015.51,-1.44e-3],[2015.60,-1.34e-3],[2015.69,-1.44e-3],[2015.78,-1.3e-3],
[2015.87,-1.39e-3],[2015.96,-1.34e-3],[2016.09,-1.39e-3],[2016.22,-1.3e-3],[2016.33,-1.39e-3],[2016.45,-1.47e-3],[2016.60,-1.55e-3],[2016.73,-1.72e-3],[2016.85,-1.96e-3],[2016.95,-2.1e-3],
[2017.05,-1.8e-3],[2017.13,-1.47e-3],[2017.20,-1.55e-3],[2017.27,-0.31e-3],[2017.35,-0.15e-3],[2017.42,-0.56e-3],[2017.51,-0.68e-3],[2017.60,-0.73e-3],[2017.69,-0.73e-3],[2017.80,-0.64e-3],
[2017.87,-0.81e-3],[2017.96,-2.62e-3],[2018.04,-3.45e-3],[2018.09,-3.61e-3],[2018.15,-5.26e-3],[2018.20,-7.16e-3],[2018.27,-5.76e-3],[2018.35,-3.78e-3],[2018.40,-4.44e-3],[2018.47,-4.31e-3],
[2018.55,-4.36e-3],[2018.62,-4.69e-3],[2018.69,-3.94e-3],[2018.76,-3.78e-3],[2018.84,-3.2e-3],[2018.91,-2.62e-3],[2019.00,-2.38e-3],[2019.09,-1.96e-3],[2019.18,-1.55e-3],[2019.27,-1.6e-3],
[2019.36,-2.38e-3],[2019.45,-1.88e-3],[2019.51,-1.06e-3],[2019.60,-0.97e-3],[2019.69,-0.4e-3],[2019.76,0.1e-3],[2019.85,0.26e-3],[2019.95,1.01e-3],[2020.02,1.58e-3],[2020.09,-0.31e-3],
[2020.18,0.68e-3],[2020.27,0.73e-3],[2020.36,0.68e-3],[2020.45,0.43e-3],[2020.55,0.31e-3],[2020.64,0.02e-3],[2020.71,-0.64e-3],[2020.78,-0.97e-3],[2020.85,-0.94e-3]];
const INF_h3_red = [[2004.42,2004.85],[2009.20,2010.82],[2011.91,2013.04],[2014.20,2014.45],[2014.96,2017.20],[2018.04,2019.45],[2020.71,2020.85]];

const INF_h6 = [[2004.42,2.32e-3],[2004.51,2.51e-3],[2004.58,3.04e-3],[2004.66,2.51e-3],[2004.73,1.06e-3],[2004.82,0.58e-3],[2004.91,0.39e-3],[2005.00,0.22e-3],[2005.09,-0.34e-3],[2005.18,-0.1e-3],
[2005.27,-0.27e-3],[2005.36,-0.63e-3],[2005.45,-1.47e-3],[2005.53,-3.0e-3],[2005.60,-0.99e-3],[2005.69,0.22e-3],[2005.78,0.82e-3],[2005.87,0.94e-3],[2005.96,1.18e-3],[2006.05,1.3e-3],
[2006.12,2.15e-3],[2006.18,2.63e-3],[2006.23,2.27e-3],[2006.30,-0.1e-3],[2006.38,0.1e-3],[2006.47,0.94e-3],[2006.54,0.22e-3],[2006.61,1.06e-3],[2006.68,1.18e-3],[2006.76,0.58e-3],
[2006.83,1.18e-3],[2006.92,1.55e-3],[2007.01,2.03e-3],[2007.10,2.27e-3],[2007.19,2.51e-3],[2007.28,2.63e-3],[2007.36,2.87e-3],[2007.45,2.51e-3],[2007.52,2.27e-3],[2007.59,1.91e-3],
[2007.66,1.43e-3],[2007.74,0.46e-3],[2007.81,0.82e-3],[2007.90,1.3e-3],[2007.99,1.91e-3],[2008.08,1.79e-3],[2008.17,2.63e-3],[2008.24,2.15e-3],[2008.33,1.79e-3],[2008.42,2.39e-3],
[2008.50,3.0e-3],[2008.59,2.03e-3],[2008.68,1.43e-3],[2008.77,2.27e-3],[2008.86,3.0e-3],[2008.95,4.2e-3],[2009.02,4.81e-3],[2009.09,5.29e-3],[2009.15,0.22e-3],[2009.22,0.22e-3],
[2009.33,-0.02e-3],[2009.44,-0.14e-3],[2009.58,-0.1e-3],[2009.76,-0.1e-3],[2010.13,-0.1e-3],[2010.49,-0.1e-3],[2010.67,-0.14e-3],[2010.85,-0.1e-3],[2011.21,-0.05e-3],[2011.58,-0.1e-3],
[2011.76,-0.02e-3],[2011.85,0.46e-3],[2011.94,0.34e-3],[2012.03,1.18e-3],[2012.12,1.55e-3],[2012.21,1.43e-3],[2012.30,1.55e-3],[2012.39,2.75e-3],[2012.46,2.63e-3],[2012.54,3.0e-3],
[2012.63,2.87e-3],[2012.72,2.87e-3],[2012.81,2.8e-3],[2012.90,2.39e-3],[2012.99,2.51e-3],[2013.06,2.27e-3],[2013.12,2.15e-3],[2013.17,0.34e-3],[2013.24,-0.39e-3],[2013.32,0.34e-3],
[2013.41,4.08e-3],[2013.50,3.48e-3],[2013.59,2.63e-3],[2013.68,2.63e-3],[2013.77,4.44e-3],[2013.84,6.38e-3],[2013.89,8.02e-3],[2013.96,7.95e-3],[2014.02,4.52e-3],[2014.08,2.27e-3],
[2014.15,1.79e-3],[2014.22,0.34e-3],[2014.29,-0.99e-3],[2014.38,-1.23e-3],[2014.47,-2.03e-3],[2014.55,0.34e-3],[2014.62,1.91e-3],[2014.69,2.51e-3],[2014.76,3.67e-3],[2014.84,2.63e-3],
[2014.91,3.48e-3],[2014.98,1.55e-3],[2015.05,-0.87e-3],[2015.13,-1.47e-3],[2015.24,-2.08e-3],[2015.34,-2.27e-3],[2015.47,-2.32e-3],[2015.60,-2.27e-3],[2015.71,-2.15e-3],[2015.83,-2.08e-3],
[2015.92,-2.03e-3],[2016.01,-2.15e-3],[2016.10,-1.96e-3],[2016.23,-1.84e-3],[2016.38,-1.79e-3],[2016.50,-1.79e-3],[2016.61,-1.71e-3],[2016.70,-1.55e-3],[2016.79,-1.79e-3],[2016.87,-2.68e-3],
[2016.94,-3.0e-3],[2017.01,-2.8e-3],[2017.10,-2.2e-3],[2017.16,-1.84e-3],[2017.23,-2.08e-3],[2017.30,-1.47e-3],[2017.37,-1.4e-3],[2017.46,-1.71e-3],[2017.55,-2.08e-3],[2017.64,-2.44e-3],
[2017.74,-3.16e-3],[2017.83,-3.29e-3],[2017.92,-3.89e-3],[2018.01,-4.73e-3],[2018.10,-5.58e-3],[2018.19,-6.43e-3],[2018.24,-7.51e-3],[2018.31,-6.43e-3],[2018.39,-2.68e-3],[2018.46,-3.53e-3],
[2018.53,-3.65e-3],[2018.60,-2.32e-3],[2018.68,-4.01e-3],[2018.74,-5.92e-3],[2018.79,-7.75e-3],[2018.87,-6.18e-3],[2018.96,-4.98e-3],[2019.01,-3.41e-3],[2019.11,-2.2e-3],[2019.20,-2.32e-3],
[2019.29,-1.47e-3],[2019.38,-2.03e-3],[2019.47,-1.35e-3],[2019.56,-0.87e-3],[2019.65,-0.75e-3],[2019.74,-0.39e-3],[2019.83,0.1e-3],[2019.92,0.58e-3],[2020.01,1.06e-3],[2020.09,1.67e-3],
[2020.16,-0.14e-3],[2020.24,-0.27e-3],[2020.31,1.06e-3],[2020.40,1.18e-3],[2020.49,1.3e-3],[2020.58,1.47e-3],[2020.67,1.43e-3],[2020.72,0.58e-3],[2020.82,0.22e-3],[2020.91,-0.05e-3]];
const INF_h6_red = [[2004.42,2004.66],[2009.33,2009.58],[2012.39,2013.12],[2013.89,2013.96],[2015.05,2018.24],[2018.96,2019.01],[2020.40,2020.67]];

const INF_h12 = [[2004.43,3.25e-3],[2004.52,2.75e-3],[2004.61,2.57e-3],[2004.70,1.62e-3],[2004.78,0.3e-3],[2004.84,-0.94e-3],[2004.93,-0.45e-3],[2005.02,-0.64e-3],[2005.11,-1.21e-3],[2005.20,-1.02e-3],
[2005.27,-1.96e-3],[2005.34,-1.58e-3],[2005.41,-2.72e-3],[2005.50,-3.47e-3],[2005.59,-0.45e-3],[2005.68,0.87e-3],[2005.77,2.94e-3],[2005.86,3.32e-3],[2005.95,3.13e-3],[2006.04,3.4e-3],
[2006.13,2.94e-3],[2006.20,4.64e-3],[2006.27,2.57e-3],[2006.34,-0.75e-3],[2006.42,0.11e-3],[2006.49,-1.58e-3],[2006.56,-2.34e-3],[2006.63,-1.77e-3],[2006.72,-1.02e-3],[2006.81,-0.45e-3],
[2006.90,-0.26e-3],[2006.97,2.38e-3],[2007.06,2.0e-3],[2007.15,3.32e-3],[2007.24,3.7e-3],[2007.33,4.15e-3],[2007.40,3.51e-3],[2007.47,3.32e-3],[2007.54,3.7e-3],[2007.62,3.13e-3],
[2007.71,1.81e-3],[2007.78,0.68e-3],[2007.85,2.57e-3],[2007.92,3.13e-3],[2008.01,3.51e-3],[2008.08,1.62e-3],[2008.15,0.49e-3],[2008.24,0.3e-3],[2008.32,0.68e-3],[2008.39,1.43e-3],
[2008.46,2.57e-3],[2008.53,3.25e-3],[2008.60,1.81e-3],[2008.67,-0.26e-3],[2008.75,0.11e-3],[2008.82,1.06e-3],[2008.91,4.08e-3],[2009.00,6.91e-3],[2009.07,7.85e-3],[2009.12,7.66e-3],
[2009.18,0.3e-3],[2009.28,0.11e-3],[2009.44,0],[2009.71,0],[2010.25,-0.08e-3],[2010.79,-0.15e-3],[2011.06,-0.15e-3],[2011.33,-0.08e-3],[2011.51,-0.08e-3],[2011.65,0.68e-3],
[2011.74,0.49e-3],[2011.83,0.49e-3],[2011.92,2.57e-3],[2012.01,3.13e-3],[2012.10,3.89e-3],[2012.19,3.4e-3],[2012.28,3.7e-3],[2012.37,5.13e-3],[2012.44,5.58e-3],[2012.53,5.51e-3],
[2012.62,5.77e-3],[2012.71,5.21e-3],[2012.80,4.83e-3],[2012.89,4.45e-3],[2012.98,3.89e-3],[2013.05,3.51e-3],[2013.12,4.45e-3],[2013.19,1.81e-3],[2013.26,0],[2013.33,2.19e-3],
[2013.42,4.08e-3],[2013.49,4.83e-3],[2013.58,5.21e-3],[2013.66,5.58e-3],[2013.73,6.72e-3],[2013.80,9.36e-3],[2013.85,10.87e-3],[2013.91,16.15e-3],[2013.96,18.42e-3],[2014.03,16.15e-3],
[2014.08,7.09e-3],[2014.12,4.83e-3],[2014.19,5.96e-3],[2014.27,0.49e-3],[2014.33,0.49e-3],[2014.42,0.3e-3],[2014.51,0.11e-3],[2014.59,3.32e-3],[2014.66,3.32e-3],[2014.73,4.08e-3],
[2014.80,3.51e-3],[2014.87,4.45e-3],[2014.95,5.21e-3],[2014.98,2.94e-3],[2015.05,-1.21e-3],[2015.13,-2.34e-3],[2015.21,-2.91e-3],[2015.30,-3.09e-3],[2015.41,-3.17e-3],[2015.52,-3.47e-3],
[2015.63,-3.36e-3],[2015.73,-3.47e-3],[2015.84,-3.4e-3],[2015.95,-3.66e-3],[2016.06,-3.47e-3],[2016.16,-3.28e-3],[2016.27,-3.47e-3],[2016.38,-3.36e-3],[2016.49,-3.47e-3],[2016.60,-3.28e-3],
[2016.70,-3.28e-3],[2016.81,-3.66e-3],[2016.92,-4.04e-3],[2017.03,-3.85e-3],[2017.11,-3.09e-3],[2017.20,-1.77e-3],[2017.29,-1.58e-3],[2017.37,-1.21e-3],[2017.44,-1.58e-3],[2017.53,-1.96e-3],
[2017.62,-1.77e-3],[2017.71,-1.77e-3],[2017.80,-2.53e-3],[2017.89,-2.64e-3],[2017.98,-3.09e-3],[2018.06,-3.47e-3],[2018.15,-4.04e-3],[2018.22,-4.6e-3],[2018.28,-6.3e-3],[2018.33,-4.6e-3],
[2018.39,-0.45e-3],[2018.46,0.75e-3],[2018.55,0.68e-3],[2018.64,1.25e-3],[2018.71,0.87e-3],[2018.78,-1.02e-3],[2018.85,-6.11e-3],[2018.92,-3.47e-3],[2018.99,-0.64e-3],[2019.07,0.3e-3],
[2019.14,-0.26e-3],[2019.21,1.06e-3],[2019.30,0.68e-3],[2019.39,2.0e-3],[2019.48,1.43e-3],[2019.57,1.43e-3],[2019.66,1.81e-3],[2019.75,2.94e-3],[2019.84,3.32e-3],[2019.92,3.7e-3],
[2020.01,4.08e-3],[2020.10,4.83e-3],[2020.15,2.57e-3],[2020.24,1.81e-3],[2020.33,2.38e-3],[2020.42,2.57e-3],[2020.52,1.36e-3],[2020.61,1.25e-3],[2020.70,1.25e-3],[2020.79,0.98e-3],
[2020.88,0.68e-3],[2020.97,0.68e-3]];
const INF_h12_red = [[2004.43,2004.61],[2009.07,2009.12],[2010.79,2011.06],[2012.37,2013.12],[2013.85,2014.03],[2014.59,2017.37],[2018.06,2018.33],[2019.66,2020.97]];

const CA_h3 = [[2004.42,3.37e-3],[2004.51,2.09e-3],[2004.58,1.38e-3],[2004.67,1.1e-3],[2004.73,-0.04e-3],[2004.78,-0.75e-3],[2004.85,-1.18e-3],[2004.91,-1.75e-3],[2004.98,-1.61e-3],[2005.05,-1.75e-3],
[2005.13,-2.11e-3],[2005.20,-2.89e-3],[2005.27,-3.24e-3],[2005.35,-2.89e-3],[2005.42,-2.49e-3],[2005.49,-2.67e-3],[2005.56,-2.82e-3],[2005.64,-2.32e-3],[2005.73,-2.82e-3],[2005.80,-2.89e-3],
[2005.87,-3.03e-3],[2005.95,-3.46e-3],[2006.02,-3.1e-3],[2006.07,-2.75e-3],[2006.15,-3.6e-3],[2006.22,-4.24e-3],[2006.29,-3.46e-3],[2006.36,-2.6e-3],[2006.44,-1.75e-3],[2006.51,-1.61e-3],
[2006.58,-1.82e-3],[2006.65,0.67e-3],[2006.73,1.52e-3],[2006.78,1.88e-3],[2006.85,0.38e-3],[2006.93,0.95e-3],[2007.02,1.17e-3],[2007.11,1.38e-3],[2007.20,1.45e-3],[2007.29,1.59e-3],
[2007.38,2.09e-3],[2007.45,2.8e-3],[2007.51,3.94e-3],[2007.56,4.65e-3],[2007.62,3.8e-3],[2007.67,3.09e-3],[2007.75,3.09e-3],[2007.80,2.59e-3],[2007.85,0.81e-3],[2007.93,-0.9e-3],
[2007.99,-0.9e-3],[2008.07,-2.03e-3],[2008.15,-2.75e-3],[2008.22,-2.82e-3],[2008.29,-1.39e-3],[2008.36,-1.47e-3],[2008.44,-2.11e-3],[2008.51,-1.96e-3],[2008.58,-2.11e-3],[2008.65,-2.6e-3],
[2008.73,-3.17e-3],[2008.80,-4.31e-3],[2008.87,-3.67e-3],[2008.95,-4.59e-3],[2009.02,-3.6e-3],[2009.09,-1.32e-3],[2009.16,-0.18e-3],[2009.24,0.31e-3],[2009.31,0.03e-3],[2009.38,-0.04e-3],
[2009.45,1.66e-3],[2009.53,3.44e-3],[2009.60,3.4e-3],[2009.67,2.59e-3],[2009.76,2.02e-3],[2009.85,1.95e-3],[2009.95,1.95e-3],[2010.04,1.31e-3],[2010.13,1.52e-3],[2010.20,1.38e-3],
[2010.31,1.52e-3],[2010.40,2.02e-3],[2010.49,2.09e-3],[2010.58,2.45e-3],[2010.67,2.63e-3],[2010.76,2.59e-3],[2010.85,2.45e-3],[2010.95,2.26e-3],[2011.04,2.23e-3],[2011.13,1.38e-3],
[2011.20,0.67e-3],[2011.27,-0.33e-3],[2011.35,0.24e-3],[2011.42,0.38e-3],[2011.49,0.24e-3],[2011.56,-0.04e-3],[2011.64,-0.47e-3],[2011.73,-0.61e-3],[2011.82,-0.9e-3],[2011.91,-0.18e-3],
[2012.00,0.1e-3],[2012.09,0.67e-3],[2012.16,-0.61e-3],[2012.27,-0.83e-3],[2012.36,-0.04e-3],[2012.45,0.38e-3],[2012.55,0.95e-3],[2012.64,1.1e-3],[2012.73,1.31e-3],[2012.82,1.1e-3],
[2012.91,0.38e-3],[2013.00,-0.04e-3],[2013.09,-0.33e-3],[2013.18,-0.47e-3],[2013.27,-0.61e-3],[2013.36,-0.4e-3],[2013.45,-0.4e-3],[2013.55,-0.04e-3],[2013.64,0.24e-3],[2013.73,-0.18e-3],
[2013.82,-0.54e-3],[2013.91,-0.04e-3],[2014.00,0.81e-3],[2014.09,1.31e-3],[2014.18,0.74e-3],[2014.27,-0.04e-3],[2014.36,-0.61e-3],[2014.45,-0.9e-3],[2014.55,-0.33e-3],[2014.64,0.38e-3],
[2014.73,0.53e-3],[2014.82,0.46e-3],[2014.91,0.31e-3],[2015.00,0.38e-3],[2015.09,0.31e-3],[2015.18,0.46e-3],[2015.27,0.67e-3],[2015.36,1.24e-3],[2015.45,1.1e-3],[2015.55,0.81e-3],
[2015.64,0.67e-3],[2015.73,0.74e-3],[2015.82,1.24e-3],[2015.91,1.02e-3],[2016.00,1.17e-3],[2016.09,1.1e-3],[2016.18,1.45e-3],[2016.27,1.31e-3],[2016.36,1.24e-3],[2016.45,1.17e-3],
[2016.55,1.1e-3],[2016.64,1.02e-3],[2016.73,1.45e-3],[2016.82,1.52e-3],[2016.91,1.45e-3],[2017.00,1.38e-3],[2017.09,1.52e-3],[2017.18,1.66e-3],[2017.27,1.59e-3],[2017.36,1.88e-3],
[2017.45,2.38e-3],[2017.55,2.23e-3],[2017.64,2.02e-3],[2017.73,2.45e-3],[2017.78,2.55e-3],[2017.85,2.09e-3],[2017.93,2.23e-3],[2018.00,2.8e-3],[2018.05,3.02e-3],[2018.11,2.38e-3],
[2018.18,0.38e-3],[2018.27,0.6e-3],[2018.36,0.53e-3],[2018.45,0.46e-3],[2018.51,0.24e-3],[2018.58,0.53e-3],[2018.64,0.1e-3],[2018.71,-0.01e-3],[2018.76,0.67e-3],[2018.84,1.31e-3],
[2018.91,1.24e-3],[2018.98,1.66e-3],[2019.05,0.17e-3],[2019.13,0.74e-3],[2019.20,0.53e-3],[2019.27,-0.04e-3],[2019.36,-0.18e-3],[2019.45,-0.47e-3],[2019.55,-0.47e-3],[2019.64,-0.61e-3],
[2019.73,-0.11e-3],[2019.82,-0.61e-3],[2019.91,-1.04e-3],[2020.00,-0.61e-3],[2020.09,-1.18e-3],[2020.18,-0.9e-3],[2020.27,-0.61e-3],[2020.36,-0.18e-3],[2020.45,-0.61e-3],[2020.55,0.03e-3],
[2020.64,0.31e-3],[2020.73,0.38e-3],[2020.82,0.27e-3]];
const CA_h3_red = [[2016.18,2016.27],[2016.64,2017.78]];

const CA_h6 = [[2004.40,7.09e-3],[2004.45,7.88e-3],[2004.53,7.22e-3],[2004.60,5.5e-3],[2004.67,4.18e-3],[2004.76,3.12e-3],[2004.84,2.33e-3],[2004.91,1.01e-3],[2004.98,0.74e-3],[2005.05,1.06e-3],
[2005.13,-0.05e-3],[2005.20,-1.24e-3],[2005.25,-2.7e-3],[2005.33,-0.85e-3],[2005.40,0.34e-3],[2005.47,-0.58e-3],[2005.55,-1.11e-3],[2005.62,-1.9e-3],[2005.69,-0.85e-3],[2005.76,-0.79e-3],
[2005.85,-0.98e-3],[2005.93,-1.77e-3],[2006.00,-2.83e-3],[2006.07,-2.43e-3],[2006.15,-3.76e-3],[2006.20,-5.61e-3],[2006.27,-6.14e-3],[2006.35,-6.27e-3],[2006.42,-4.81e-3],[2006.49,-2.43e-3],
[2006.56,-2.04e-3],[2006.64,0.74e-3],[2006.71,1.93e-3],[2006.78,1.67e-3],[2006.87,-0.58e-3],[2006.95,-0.98e-3],[2007.02,-2.7e-3],[2007.09,-2.43e-3],[2007.16,-2.83e-3],[2007.24,-2.96e-3],
[2007.31,-2.3e-3],[2007.38,-2.7e-3],[2007.45,-0.98e-3],[2007.53,0.61e-3],[2007.60,0.61e-3],[2007.67,-0.11e-3],[2007.75,0.61e-3],[2007.82,1.06e-3],[2007.89,-0.05e-3],[2007.96,-1.38e-3],
[2008.04,-2.7e-3],[2008.11,-3.23e-3],[2008.18,-3.89e-3],[2008.25,-3.36e-3],[2008.33,-3.36e-3],[2008.40,-4.02e-3],[2008.47,-3.44e-3],[2008.56,-2.96e-3],[2008.65,-2.49e-3],[2008.73,-2.7e-3],
[2008.80,-3.49e-3],[2008.85,-4.81e-3],[2008.93,-6.4e-3],[2008.98,-7.99e-3],[2009.05,-6.14e-3],[2009.13,-4.81e-3],[2009.20,-2.83e-3],[2009.27,-1.77e-3],[2009.33,4.05e-3],[2009.40,3.52e-3],
[2009.45,5.5e-3],[2009.53,7.88e-3],[2009.60,9.21e-3],[2009.67,8.15e-3],[2009.76,7.22e-3],[2009.85,7.09e-3],[2009.95,6.83e-3],[2010.04,5.37e-3],[2010.13,5.11e-3],[2010.22,4.97e-3],
[2010.29,4.05e-3],[2010.36,4.58e-3],[2010.44,5.77e-3],[2010.53,6.56e-3],[2010.60,6.56e-3],[2010.67,6.3e-3],[2010.76,5.77e-3],[2010.84,4.97e-3],[2010.91,4.44e-3],[2010.98,4.05e-3],
[2011.05,3.78e-3],[2011.13,3.12e-3],[2011.20,2.59e-3],[2011.27,1.4e-3],[2011.35,0.08e-3],[2011.42,0.48e-3],[2011.49,-0.05e-3],[2011.56,-0.32e-3],[2011.64,-0.85e-3],[2011.71,0.21e-3],
[2011.78,-2.17e-3],[2011.85,-0.32e-3],[2011.95,0.21e-3],[2012.04,-0.05e-3],[2012.13,-0.32e-3],[2012.22,-1.11e-3],[2012.31,-0.58e-3],[2012.40,-1.24e-3],[2012.49,-1.38e-3],[2012.58,-0.58e-3],
[2012.67,-0.45e-3],[2012.76,0.21e-3],[2012.85,0.61e-3],[2012.95,-0.05e-3],[2013.04,-0.71e-3],[2013.13,-1.38e-3],[2013.22,-1.11e-3],[2013.31,-0.71e-3],[2013.40,-0.05e-3],[2013.49,0.21e-3],
[2013.58,-0.05e-3],[2013.67,-0.32e-3],[2013.76,-0.32e-3],[2013.85,0.21e-3],[2013.95,0.34e-3],[2014.04,0.61e-3],[2014.13,0.21e-3],[2014.22,-0.58e-3],[2014.31,-0.98e-3],[2014.40,-1.11e-3],
[2014.49,-2.3e-3],[2014.58,-1.11e-3],[2014.67,-0.58e-3],[2014.76,-0.71e-3],[2014.85,-0.85e-3],[2014.95,-0.85e-3],[2015.04,1.01e-3],[2015.13,2.2e-3],[2015.22,1.93e-3],[2015.31,1.53e-3],
[2015.40,1.93e-3],[2015.49,1.4e-3],[2015.58,0.87e-3],[2015.67,0.48e-3],[2015.76,0.87e-3],[2015.85,1.67e-3],[2015.95,1.53e-3],[2016.04,1.14e-3],[2016.13,1.4e-3],[2016.22,1.67e-3],
[2016.31,1.93e-3],[2016.40,1.8e-3],[2016.49,1.8e-3],[2016.58,1.67e-3],[2016.67,1.67e-3],[2016.76,1.53e-3],[2016.85,1.53e-3],[2016.95,1.01e-3],[2017.04,0.48e-3],[2017.13,0.74e-3],
[2017.22,1.01e-3],[2017.31,1.8e-3],[2017.40,1.53e-3],[2017.49,2.33e-3],[2017.58,0.87e-3],[2017.67,2.2e-3],[2017.76,2.33e-3],[2017.85,1.93e-3],[2017.93,1.8e-3],[2018.00,3.92e-3],
[2018.07,5.24e-3],[2018.15,4.05e-3],[2018.22,3.12e-3],[2018.31,2.72e-3],[2018.40,1.8e-3],[2018.49,1.01e-3],[2018.58,0.21e-3],[2018.67,-0.45e-3],[2018.76,0.48e-3],[2018.85,1.27e-3],
[2018.95,3.12e-3],[2019.04,2.99e-3],[2019.13,2.86e-3],[2019.18,1.01e-3],[2019.25,-0.19e-3],[2019.35,-0.45e-3],[2019.44,-0.98e-3],[2019.53,-1.64e-3],[2019.62,-1.24e-3],[2019.71,-0.58e-3],
[2019.80,0.48e-3],[2019.89,0.87e-3],[2019.98,0.61e-3],[2020.07,0.87e-3],[2020.16,0.61e-3],[2020.25,0.34e-3],[2020.35,0.48e-3],[2020.44,0.21e-3],[2020.53,0.87e-3],[2020.62,0.21e-3],
[2020.71,0.48e-3],[2020.80,0.08e-3],[2020.87,-0.58e-3],[2020.93,-0.05e-3]];
const CA_h6_red = [[2010.44,2010.76],[2018.00,2018.15]];

const CA_h12 = [[2004.42,4.51e-3],[2004.51,4.4e-3],[2004.56,4.75e-3],[2004.64,5.63e-3],[2004.71,5.78e-3],[2004.78,3.86e-3],[2004.84,2.39e-3],[2004.91,1.15e-3],[2004.98,0.56e-3],[2005.05,1.27e-3],
[2005.13,0.97e-3],[2005.20,-1.15e-3],[2005.27,0.32e-3],[2005.35,2.24e-3],[2005.42,1.65e-3],[2005.49,-0.5e-3],[2005.56,-1.0e-3],[2005.64,-0.56e-3],[2005.71,-1.59e-3],[2005.78,-3.07e-3],
[2005.87,-4.84e-3],[2005.95,-4.1e-3],[2006.02,-2.04e-3],[2006.09,-4.1e-3],[2006.16,-2.63e-3],[2006.24,-3.81e-3],[2006.31,-2.63e-3],[2006.38,-1.59e-3],[2006.45,-0.56e-3],[2006.53,0.18e-3],
[2006.60,-0.27e-3],[2006.67,-0.5e-3],[2006.75,-0.32e-3],[2006.82,-1.45e-3],[2006.89,-2.63e-3],[2006.96,-4.4e-3],[2007.04,-5.52e-3],[2007.11,-4.54e-3],[2007.20,-3.81e-3],[2007.27,-3.51e-3],
[2007.35,-4.1e-3],[2007.42,-4.16e-3],[2007.51,-3.51e-3],[2007.60,-2.27e-3],[2007.67,-2.92e-3],[2007.76,-1.89e-3],[2007.82,-0.62e-3],[2007.89,-2.92e-3],[2007.96,-4.25e-3],[2008.04,-5.58e-3],
[2008.11,-5.28e-3],[2008.18,-5.58e-3],[2008.25,-6.46e-3],[2008.33,-7.64e-3],[2008.40,-7.94e-3],[2008.47,-8.53e-3],[2008.55,-7.35e-3],[2008.62,-4.34e-3],[2008.69,-5.28e-3],[2008.76,-7.64e-3],
[2008.82,-9.47e-3],[2008.87,-7.94e-3],[2008.95,-8.53e-3],[2009.02,-5.87e-3],[2009.09,-3.51e-3],[2009.16,-1.45e-3],[2009.24,-0.27e-3],[2009.31,2.09e-3],[2009.38,2.24e-3],[2009.44,4.16e-3],
[2009.51,6.52e-3],[2009.58,8.88e-3],[2009.65,9.62e-3],[2009.73,9.76e-3],[2009.80,7.99e-3],[2009.87,7.4e-3],[2009.95,7.85e-3],[2010.02,7.4e-3],[2010.09,7.4e-3],[2010.16,6.96e-3],
[2010.24,7.55e-3],[2010.31,7.7e-3],[2010.38,7.85e-3],[2010.45,7.99e-3],[2010.53,8.35e-3],[2010.62,7.7e-3],[2010.69,6.67e-3],[2010.76,7.26e-3],[2010.84,6.96e-3],[2010.91,7.85e-3],
[2010.98,8.88e-3],[2011.05,7.4e-3],[2011.13,6.81e-3],[2011.20,7.7e-3],[2011.27,6.67e-3],[2011.35,5.63e-3],[2011.42,5.78e-3],[2011.49,5.04e-3],[2011.56,3.27e-3],[2011.64,1.65e-3],
[2011.71,0.03e-3],[2011.78,-0.86e-3],[2011.85,-1.3e-3],[2011.93,-0.71e-3],[2012.02,-0.12e-3],[2012.11,0.62e-3],[2012.20,0.18e-3],[2012.29,0.91e-3],[2012.38,0.62e-3],[2012.47,1.36e-3],
[2012.56,1.06e-3],[2012.65,1.65e-3],[2012.75,1.21e-3],[2012.84,1.95e-3],[2012.93,1.5e-3],[2013.00,-0.71e-3],[2013.09,0.91e-3],[2013.18,1.36e-3],[2013.27,1.8e-3],[2013.36,1.06e-3],
[2013.45,1.21e-3],[2013.55,0.47e-3],[2013.64,0.47e-3],[2013.73,1.21e-3],[2013.82,0.47e-3],[2013.89,2.98e-3],[2013.95,0.47e-3],[2014.04,0.47e-3],[2014.13,0.32e-3],[2014.22,0.03e-3],
[2014.31,0.18e-3],[2014.40,-0.56e-3],[2014.49,-2.04e-3],[2014.58,-1.45e-3],[2014.67,-1.74e-3],[2014.76,-2.04e-3],[2014.84,-3.66e-3],[2014.91,-1.74e-3],[2014.98,0.03e-3],[2015.05,2.39e-3],
[2015.13,2.09e-3],[2015.20,1.8e-3],[2015.27,1.65e-3],[2015.36,1.5e-3],[2015.45,1.21e-3],[2015.53,1.5e-3],[2015.60,0.62e-3],[2015.67,0.47e-3],[2015.75,1.21e-3],[2015.82,0.47e-3],
[2015.89,1.21e-3],[2015.96,0.32e-3],[2016.04,-1.15e-3],[2016.11,0.03e-3],[2016.18,0.32e-3],[2016.25,0.47e-3],[2016.33,1.21e-3],[2016.40,1.36e-3],[2016.47,1.21e-3],[2016.55,1.21e-3],
[2016.62,1.21e-3],[2016.69,0.77e-3],[2016.76,0.91e-3],[2016.84,0.62e-3],[2016.91,0.47e-3],[2016.98,-0.27e-3],[2017.05,-0.86e-3],[2017.13,-0.86e-3],[2017.20,-0.27e-3],[2017.27,0.03e-3],
[2017.35,-0.12e-3],[2017.42,0.47e-3],[2017.49,1.21e-3],[2017.56,0.32e-3],[2017.64,1.8e-3],[2017.71,2.98e-3],[2017.78,2.39e-3],[2017.85,-0.27e-3],[2017.93,-2.04e-3],[2018.00,0.18e-3],
[2018.07,2.45e-3],[2018.15,1.5e-3],[2018.22,0.62e-3],[2018.29,0.91e-3],[2018.36,0.18e-3],[2018.44,-0.41e-3],[2018.51,-1.45e-3],[2018.58,-2.92e-3],[2018.65,-2.92e-3],[2018.73,-3.36e-3],
[2018.80,-1.59e-3],[2018.87,0.77e-3],[2018.95,1.5e-3],[2019.02,1.95e-3],[2019.09,2.09e-3],[2019.16,-0.86e-3],[2019.24,-1.59e-3],[2019.31,-1.45e-3],[2019.38,-1.74e-3],[2019.45,-2.92e-3],
[2019.53,-2.63e-3],[2019.60,-2.04e-3],[2019.67,-1.15e-3],[2019.75,-1.74e-3],[2019.82,0.03e-3],[2019.89,0.77e-3],[2019.96,0.97e-3],[2020.05,0.91e-3],[2020.15,2.24e-3],[2020.22,0.47e-3],
[2020.29,-0.27e-3],[2020.36,0.32e-3],[2020.44,0.18e-3],[2020.51,0.47e-3],[2020.58,0.03e-3],[2020.65,0.47e-3],[2020.73,0.62e-3],[2020.80,-0.12e-3],[2020.87,-0.41e-3]];
const CA_h12_red = [[2008.18,2008.47],[2009.65,2009.73],[2010.31,2011.42]];

// Layout: plot boxes in px [x0, y0, x1, y1]
const W = 1084, H = 1313;
const panels = [
  {data: IR_h3,  red: IR_h3_red,  lab: 'IR',  box: [29,73,368,314],   yr: [-1.98e-3, 5.32e-3],  dt: 0.002,  fmt: '.3f', xlab: true},
  {data: IR_h6,  red: IR_h6_red,  lab: 'IR',  box: [391,73,731,314],  yr: [-1.81e-3, 6.72e-3],  dt: 0.002,  fmt: '.3f', xlab: true},
  {data: IR_h12, red: IR_h12_red, lab: 'IR',  box: [752,73,1084,314], yr: [-2.0e-3, 17.95e-3],  dt: 0.005,  fmt: '.3f', xlab: true},
  {data: GDP_h3, red: GDP_h3_red, lab: 'GDP', box: [32,407,370,647],  yr: [-11.25e-3, 12.45e-3], dt: 0.005, fmt: '.3f', xlab: true},
  {data: GDP_h6, red: GDP_h6_red, lab: 'GDP', box: [391,407,730,647], yr: [-18.3e-3, 11.62e-3], dt: 0.01,   fmt: '.2f', xlab: true},
  {data: GDP_h12,red: GDP_h12_red,lab: 'GDP', box: [753,407,1084,647],yr: [-23.1e-3, 11.6e-3],  dt: 0.01,   fmt: '.2f', xlab: true},
  {data: INF_h3, red: INF_h3_red, lab: 'INF', box: [34,739,369,979],  yr: [-7.7e-3, 4.15e-3],   dt: 0.0025, fmt: '.4f', xlab: true},
  {data: INF_h6, red: INF_h6_red, lab: 'INF', box: [393,739,730,979], yr: [-8.54e-3, 8.81e-3],  dt: 0.005,  fmt: '.3f', xlab: true},
  {data: INF_h12,red: INF_h12_red,lab: 'INF', box: [750,739,1084,979],yr: [-7.54e-3, 19.66e-3], dt: 0.01,   fmt: '.2f', xlab: true},
  {data: CA_h3,  red: CA_h3_red,  lab: 'CA',  box: [29,1073,365,1312],  yr: [-5.05e-3, 5.11e-3], dt: 0.0025, fmt: '.4f', xlab: false},
  {data: CA_h6,  red: CA_h6_red,  lab: 'CA',  box: [387,1073,727,1312], yr: [-8.85e-3, 10.07e-3], dt: 0.005, fmt: '.3f', xlab: false},
  {data: CA_h12, red: CA_h12_red, lab: 'CA',  box: [757,1073,1084,1312],yr: [-10.43e-3, 10.72e-3],dt: 0.005, fmt: '.3f', xlab: false}
];

const panelTitles = [
  {text: 'Panel (a): Interest rate expectations (IR)', y: 22},
  {text: 'Panel (b): GDP growth expectations (GDP)', y: 355},
  {text: 'Panel (c): Inflation expectations (INF)', y: 688},
  {text: 'Panel (d): Current account to GDP ratio expectations (CA)', y: 1021}
];
const horizons = ['3', '6', '12'];
const hX = [141, 544, 956];
const hY = [59, 392, 725, 1057];

const traces = [];
const layout = {
  width: W, height: H, margin: {l:0, r:0, t:0, b:0},
  paper_bgcolor: '#ffffff', plot_bgcolor: '#EBEBEB',
  showlegend: false, annotations: []
};
const tickFont = {family: 'Liberation Sans, Arial, sans-serif', size: 4.5, color: '#4D4D4D'};

panels.forEach((p, i) => {
  const n = i + 1;
  const xa = 'x' + (n === 1 ? '' : n), ya = 'y' + (n === 1 ? '' : n);
  const xk = 'xaxis' + (n === 1 ? '' : n), yk = 'yaxis' + (n === 1 ? '' : n);
  const [x0, y0, x1, y1] = p.box;
  layout[xk] = {
    domain: [x0 / W, x1 / W], anchor: ya, range: [2003.57, 2021.93],
    tickmode: 'linear', tick0: 2005, dtick: 2, tickformat: 'd',
    showgrid: true, gridcolor: '#FFFFFF', gridwidth: 1.2,
    minor: {dtick: 1, showgrid: true, gridcolor: '#FFFFFF', gridwidth: 0.6},
    zeroline: false, showline: false, showticklabels: p.xlab,
    ticks: 'outside', ticklen: 2, tickwidth: 0.6, tickcolor: '#333333',
    tickfont: tickFont, fixedrange: true
  };
  layout[yk] = {
    domain: [1 - y1 / H, 1 - y0 / H], anchor: xa, range: p.yr,
    tickmode: 'linear', tick0: 0, dtick: p.dt, tickformat: p.fmt,
    showgrid: true, gridcolor: '#FFFFFF', gridwidth: 1.2,
    minor: {dtick: p.dt / 2, showgrid: true, gridcolor: '#FFFFFF', gridwidth: 0.6},
    zeroline: false, showline: false,
    ticks: 'outside', ticklen: 2, tickwidth: 0.6, tickcolor: '#333333',
    tickfont: tickFont, fixedrange: true,
    title: {text: p.lab, font: {family: 'Liberation Sans, Arial, sans-serif', size: 5.5, color: '#222'}, standoff: 1}
  };
  // recession shading as filled traces spanning the axis range
  recessions.forEach(r => {
    traces.push({x: [r[0], r[1], r[1], r[0], r[0]], y: [p.yr[0], p.yr[0], p.yr[1], p.yr[1], p.yr[0]],
      xaxis: xa, yaxis: ya, mode: 'lines', fill: 'toself', fillcolor: 'rgba(226,140,112,0.40)',
      line: {width: 0, color: 'rgba(0,0,0,0)'}, hoverinfo: 'skip'});
  });
  const t = p.data.map(d => d[0]);
  const v = p.data.map(d => d[1]);
  // zero reference (dotted)
  traces.push({x: [t[0], t[t.length - 1]], y: [0, 0], xaxis: xa, yaxis: ya, mode: 'lines',
    line: {color: '#333333', width: 0.7, dash: '2px,2px'}, hoverinfo: 'skip'});
  // full series
  traces.push({x: t, y: v, xaxis: xa, yaxis: ya, mode: 'lines',
    line: {color: '#262626', width: 0.9}, hoverinfo: 'skip'});
  // highlighted segments
  const inRed = tt => p.red.some(r => tt >= r[0] - 1e-6 && tt <= r[1] + 1e-6);
  traces.push({x: t, y: v.map((val, k) => inRed(t[k]) ? val : null), xaxis: xa, yaxis: ya, mode: 'lines',
    connectgaps: false, line: {color: '#E8141C', width: 1.15}, hoverinfo: 'skip'});
});

const serif = 'Liberation Serif, Times New Roman, serif';
panelTitles.forEach((pt, r) => {
  layout.annotations.push({text: pt.text, xref: 'paper', yref: 'paper', x: 551 / W, y: 1 - pt.y / H,
    xanchor: 'center', yanchor: 'middle', showarrow: false, font: {family: serif, size: 34, color: '#111'}});
  horizons.forEach((h, c) => {
    layout.annotations.push({text: '<i>h</i> = ' + h, xref: 'paper', yref: 'paper', x: hX[c] / W, y: 1 - hY[r] / H,
      xanchor: 'center', yanchor: 'middle', showarrow: false, font: {family: serif, size: 35, color: '#111'}});
  });
});

Plotly.newPlot('chart', traces, layout, {staticPlot: true, displayModeBar: false});
</script>
</body></html>
